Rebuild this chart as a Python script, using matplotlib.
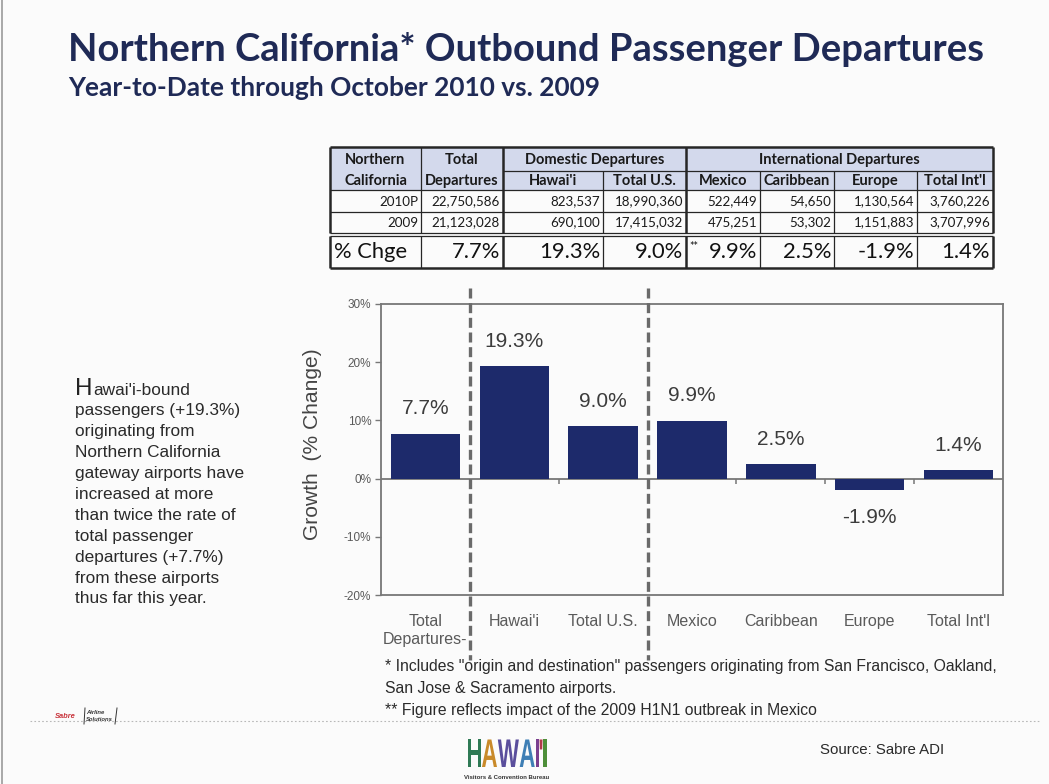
import matplotlib
matplotlib.use("Agg")
import matplotlib.pyplot as plt
from matplotlib import font_manager
from matplotlib.font_manager import FontProperties
from matplotlib.textpath import TextPath
from matplotlib.patches import PathPatch, Rectangle
from matplotlib.transforms import Affine2D
import numpy as np

# ---------------- data ----------------
categories = ["Total\nDepartures-", "Hawai'i", "Total U.S.", "Mexico",
              "Caribbean", "Europe", "Total Int'l"]
pct_change = [7.7, 19.3, 9.0, 9.9, 2.5, -1.9, 1.4]

table_columns = ["Total\nDepartures", "Hawai'i", "Total U.S.", "Mexico",
                 "Caribbean", "Europe", "Total Int'l"]
group_labels = ["Domestic Departures", "International Departures"]
year_labels = ["2010P", "2009"]
departures_2010 = [22750586, 823537, 18990360, 522449, 54650, 1130564, 3760226]
departures_2009 = [21123028, 690100, 17415032, 475251, 53302, 1151883, 3707996]

y_ticks = [-20, -10, 0, 10, 20, 30]

title = "Northern California* Outbound Passenger Departures"
subtitle = "Year-to-Date through October 2010 vs. 2009"
side_note = ["awai'i-bound", "passengers (+19.3%)", "originating from",
             "Northern California", "gateway airports have", "increased at more",
             "than twice the rate of", "total passenger", "departures (+7.7%)",
             "from these airports", "thus far this year."]
footnotes = ['* Includes "origin and destination" passengers originating from San Francisco, Oakland,',
             "San Jose & Sacramento airports.",
             "** Figure reflects impact of the 2009 H1N1 outbreak in Mexico"]
source = "Source: Sabre ADI"


def has_font(name):
    try:
        font_manager.findfont(FontProperties(family=name), fallback_to_default=False)
        return True
    except Exception:
        return False


HEAD = "Lato" if has_font("Lato") else "DejaVu Sans"
ARIAL = "Liberation Sans" if has_font("Liberation Sans") else "DejaVu Sans"
NARROW = "Liberation Sans Narrow" if has_font("Liberation Sans Narrow") else ARIAL

NAVY = "#1f2a56"
BAR = "#1d2a6b"
GREY = "#777777"

# ---------------- page ----------------
W, H = 1049, 784
fig = plt.figure(figsize=(W / 100, H / 100), dpi=100, facecolor="#fbfbfb")
page = fig.add_axes([0, 0, 1, 1], zorder=0)
page.set_xlim(0, W)
page.set_ylim(H, 0)
page.axis("off")
renderer = fig.canvas.get_renderer()


def fit_size(s, width_px, base=10.0, **kw):
    t = page.text(0, 0, s, fontsize=base, **kw)
    w = t.get_window_extent(renderer).width
    t.remove()
    return base * width_px / w


# slide edge
page.plot([2, 2], [0, H], color="#9a9a9a", lw=1.2)

# titles
fs_t = fit_size(title, 917, family=HEAD, weight="bold")
page.text(68, 61, title, fontsize=fs_t, family=HEAD, weight="bold",
          color=NAVY, va="baseline")
fs_s = fit_size(subtitle, 532, family=HEAD, weight="bold")
page.text(68, 96, subtitle, fontsize=fs_s, family=HEAD, weight="bold",
          color=NAVY, va="baseline")

# ---------------- table ----------------
xb = [330, 421, 503, 603, 686, 760, 834, 917, 993]
y_top, y_mid, y_head, y_r1, y_r2, y_pt, y_bot = 147, 171, 190, 212, 233, 236, 268
INK = "#262626"

page.add_patch(Rectangle((xb[0], y_top), xb[-1] - xb[0], y_head - y_top,
                         facecolor="#d3d9ec", edgecolor="none"))

thin, thick = 0.9, 1.8
for y, lw, x0 in [(y_top, thick, xb[0]), (y_mid, thin, xb[2]), (y_head, thin, xb[0]),
                  (y_r1, thin, xb[0]), (y_r2, thin, xb[0]), (y_pt, thin, xb[0]),
                  (y_bot, thick, xb[0])]:
    page.plot([x0, xb[-1]], [y, y], color=INK, lw=lw, solid_capstyle="butt")
for i, x in enumerate(xb):
    lw = thick if i in (0, 2, 4, 8) else thin
    y0 = y_mid if i in (3, 5, 6, 7) else y_top
    page.plot([x, x], [y0, y_r2], color=INK, lw=lw, solid_capstyle="butt")
    page.plot([x, x], [y_pt, y_bot], color=INK, lw=lw, solid_capstyle="butt")

fs_hd = fit_size("Departures", 74, family=HEAD, weight="bold")
fs_dt = fit_size("22,750,586", 68, family=HEAD)
fs_pc = fit_size("19.3%", 61, family=HEAD)

hd_kw = dict(fontsize=fs_hd, family=HEAD, weight="bold", color="#1a1a1a",
             ha="center", va="center")
page.text((xb[0] + xb[1]) / 2, 160, "Northern", **hd_kw)
page.text((xb[0] + xb[1]) / 2, 181, "California", **hd_kw)
top_line, bottom_line = table_columns[0].split("\n")
page.text((xb[1] + xb[2]) / 2, 160, top_line, **hd_kw)
page.text((xb[1] + xb[2]) / 2, 181, bottom_line, **hd_kw)
page.text((xb[2] + xb[4]) / 2, 160, group_labels[0], **hd_kw)
page.text((xb[4] + xb[8]) / 2, 160, group_labels[1], **hd_kw)
for j, name in enumerate(table_columns[1:], start=2):
    page.text((xb[j] + xb[j + 1]) / 2, 181, name, **hd_kw)

dt_kw = dict(fontsize=fs_dt, family=HEAD, color="#1a1a1a", ha="right", va="center")
for row_y, label, values in [(201.5, year_labels[0], departures_2010),
                             (222.5, year_labels[1], departures_2009)]:
    page.text(xb[1] - 3, row_y, label, **dt_kw)
    for j, v in enumerate(values, start=1):
        page.text(xb[j + 1] - 3, row_y, f"{v:,}", **dt_kw)

pc_kw = dict(fontsize=fs_pc, family=HEAD, color="#111111", va="center")
page.text(xb[0] + 4, 252, "% Chge", ha="left", **pc_kw)
for j, v in enumerate(pct_change, start=1):
    page.text(xb[j + 1] - 3, 252, f"{v:.1f}%", ha="right", **pc_kw)
page.text(xb[4] + 3, 246, "**", fontsize=fs_dt * 0.8, family=HEAD, color="#111111",
          ha="left", va="center")

# ---------------- chart ----------------
ax = fig.add_axes([381 / W, 1 - 595 / H, (1003 - 381) / W, (595 - 304) / H], zorder=2)
ax.set_facecolor("none")
x = np.arange(len(categories))
ax.bar(x, pct_change, width=0.78, color=BAR, zorder=3)
ax.set_xlim(-0.5, len(categories) - 0.5)
ax.set_ylim(y_ticks[0], y_ticks[-1])
ax.axhline(0, color=GREY, lw=1.3, zorder=2)
ax.vlines(np.arange(0.5, len(categories) - 0.5, 1), -0.9, 0, color=GREY, lw=1.1, zorder=2)

for xi, v in zip(x, pct_change):
    ax.annotate(f"{v:.1f}%", (xi, v), xytext=(0, 18 if v >= 0 else -20),
                textcoords="offset points", ha="center", va="center",
                fontsize=15, family=ARIAL, color="#3c3c3c", zorder=5)

for xd in (0.5, 2.5):
    ax.plot([xd, xd], [32.7, -31.2], color="#6a6a6a", lw=2.4,
            linestyle=(0, (3, 1.4)), clip_on=False, zorder=4)

ax.set_yticks(y_ticks)
ax.set_yticklabels([f"{t}%" for t in y_ticks], family=ARIAL)
ax.set_xticks(x)
ax.set_xticklabels(categories, family=ARIAL)
ax.tick_params(axis="y", length=4, width=1, color=GREY, labelcolor="#5a5a5a",
               labelsize=8.5, pad=3)
ax.tick_params(axis="x", length=0, pad=14, labelsize=11.5, labelcolor="#5a5a5a")
for sp in ax.spines.values():
    sp.set_color(GREY)
    sp.set_linewidth(1.3)

ylab = "Growth  (% Change)"
fs_y = fit_size(ylab, 192, family=ARIAL)
page.text(313, 444, ylab, fontsize=fs_y, family=ARIAL, color="#444444",
          rotation=90, ha="center", va="center")

# ---------------- side note ----------------
fs_n = fit_size("gateway airports have", 170, family=ARIAL)
base0 = 394.5
cap = page.text(75, base0, "H", fontsize=fs_n * 1.4, family=ARIAL, color="#222222",
                va="baseline")
cap_w = cap.get_window_extent(renderer).width
for i, line in enumerate(side_note):
    x0 = 75 + cap_w + 0.5 if i == 0 else 75
    page.text(x0, base0 + i * 20.9, line, fontsize=fs_n, family=ARIAL,
              color="#2a2a2a", va="baseline")

# ---------------- footnotes ----------------
fs_f = fit_size(footnotes[0], 613, family=NARROW)
for i, line in enumerate(footnotes):
    page.text(385, 667 + i * 21.5, line, fontsize=fs_f, family=NARROW,
              color="#2a2a2a", va="center")

page.plot([30, 1040], [721, 721], color="#b8b8b8", lw=0.8, linestyle=(0, (1.5, 2)))

fs_src = fit_size(source, 125, family=NARROW)
page.text(820, 750, source, fontsize=fs_src, family=NARROW, color="#2a2a2a",
          va="center")

# ---------------- logos ----------------
# Sabre Airline Solutions mark
page.text(55, 716, "Sabre", fontsize=5.4, family=ARIAL, style="italic",
          weight="bold", color="#c8323a", va="center")
page.text(86, 712.5, "Airline", fontsize=4.2, family=ARIAL, style="italic",
          weight="bold", color="#333333", va="center")
page.text(86, 719.5, "Solutions", fontsize=4.2, family=ARIAL, style="italic",
          weight="bold", color="#333333", va="center")
page.plot([85, 84], [708, 724], color="#333333", lw=0.7)
page.plot([117, 115], [708, 724], color="#333333", lw=0.7)

# HAWAI'I wordmark drawn from condensed glyph outlines
logo_letters = ["H", "A", "W", "A", "I", "'", "I"]
logo_colors = ["#2f7a55", "#c98a2a", "#5a4e9c", "#3f7fb5", "#7a3f8f", "#b23a4a", "#4e8f3a"]
logo_prop = FontProperties(family=ARIAL, weight="bold")
glyph_h = 29.0
x_cursor = 468.0
sx = 0.56
for ch, col in zip(logo_letters, logo_colors):
    tp = TextPath((0, 0), ch, size=40, prop=logo_prop)
    ext = tp.get_extents()
    sy = glyph_h / 29.0
    tr = Affine2D().translate(-ext.x0, 0).scale(sx * sy, -sy).translate(x_cursor, 767)
    page.add_patch(PathPatch(tr.transform_path(tp), facecolor=col, edgecolor="none"))
    x_cursor += ext.width * sx * sy + 0.8
page.text(507, 777.5, "Visitors & Convention Bureau", fontsize=4.3, family=ARIAL,
          weight="bold", color="#333333", ha="center", va="center")

fig.savefig("out.png", dpi=100, facecolor=fig.get_facecolor())
